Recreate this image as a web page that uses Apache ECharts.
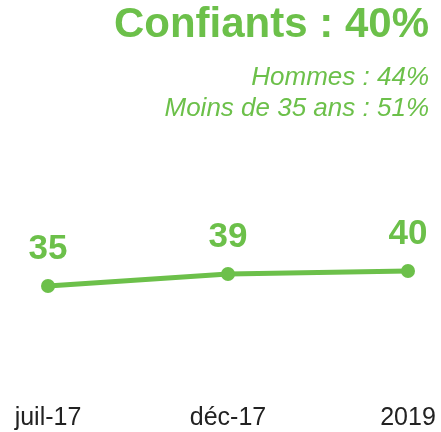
<!DOCTYPE html>
<html><head><meta charset="utf-8">
<script src="https://cdn.jsdelivr.net/npm/echarts@6/dist/echarts.min.js"></script>
<style>html,body{margin:0;padding:0;background:#fff}#c{width:441px;height:432px}</style>
</head><body><div id="c"></div>
<script>
const categories = ['juil-17', 'déc-17', '2019'];
const values = [35, 39, 40];
const titleText = 'Confiants : 40%';
const subLines = ['Hommes : 44%', 'Moins de 35 ans : 51%'];
const green = '#6cc04a';
const chart = echarts.init(document.getElementById('c'), null, {renderer: 'canvas'});
chart.setOption({
  animation: false,
  graphic: [
    {type: 'text', right: 12, top: 4, style: {text: titleText, fill: green, font: 'bold 42px "Liberation Sans", Arial, sans-serif'}},
    {type: 'text', right: 12, top: 65, style: {text: subLines[0], fill: green, font: 'italic 26px "Liberation Sans", Arial, sans-serif'}},
    {type: 'text', right: 12, top: 96, style: {text: subLines[1], fill: green, font: 'italic 26px "Liberation Sans", Arial, sans-serif'}}
  ],
  grid: {left: 48, right: 33, top: 91, bottom: 41},
  xAxis: {
    type: 'category', data: categories, boundaryGap: false,
    axisLine: {show: false}, axisTick: {show: false}, splitLine: {show: false},
    axisLabel: {fontFamily: 'Liberation Sans', fontSize: 25, color: '#222', margin: 15}
  },
  yAxis: {type: 'value', min: 0, max: 100, show: false},
  series: [{
    type: 'line', data: values, symbol: 'circle', symbolSize: 14,
    lineStyle: {color: green, width: 5}, itemStyle: {color: green},
    label: {show: true, position: 'top', distance: 12, fontFamily: 'Liberation Sans', fontSize: 35, fontWeight: 'bold', color: green}
  }]
});
</script></body></html>
